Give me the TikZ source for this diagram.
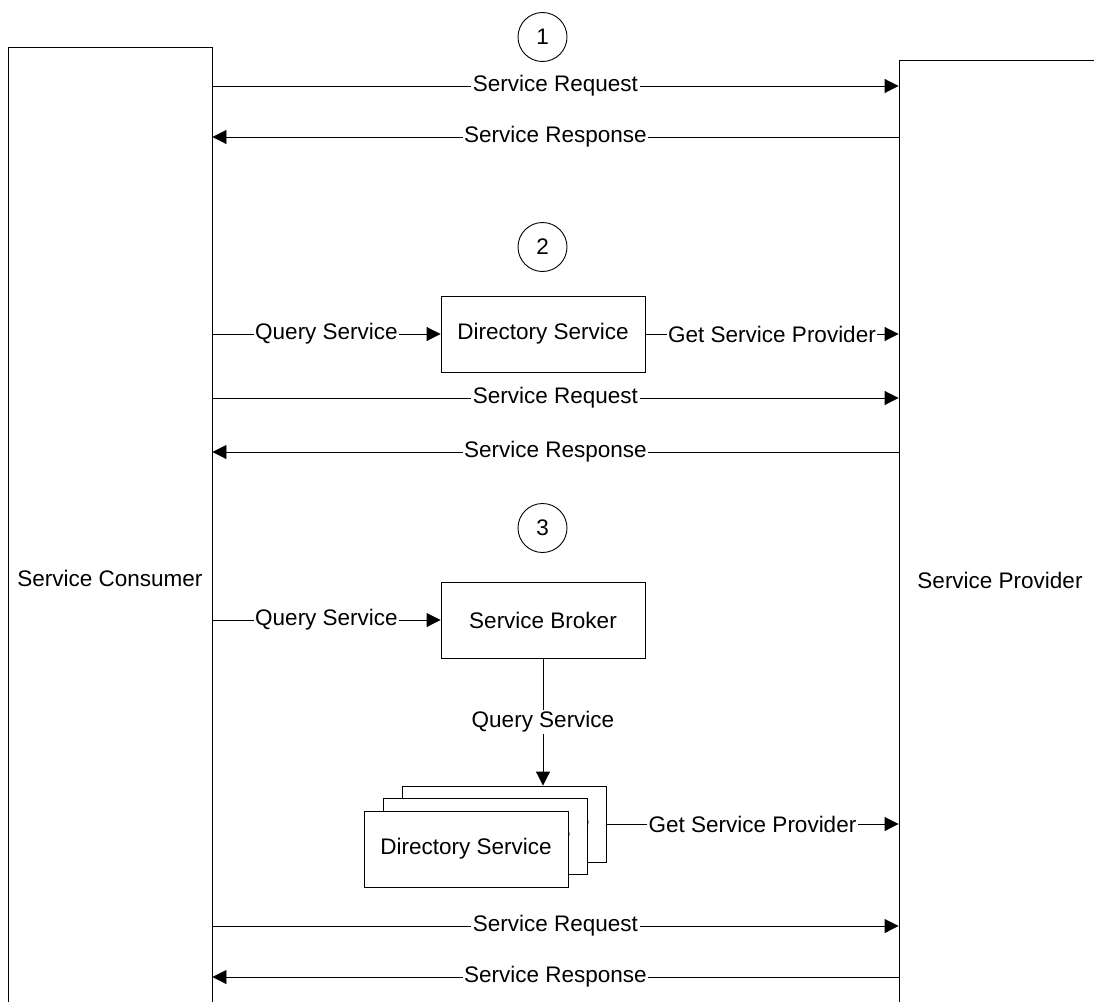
\documentclass[tikz,border=0pt]{standalone}
\usepackage{fontspec}
\setmainfont{Liberation Sans}
\usetikzlibrary{arrows.meta}
\begin{document}
\begin{tikzpicture}[line cap=butt,line join=miter,>={Triangle[length=14pt,width=14pt]},x=1pt,y=-1pt,
  font=\fontsize{22.5}{27}\selectfont,
  actor/.style={draw,line width=0.9pt,inner sep=0pt},
  svcbox/.style={draw,fill=white,line width=0.9pt,minimum width=204pt,minimum height=76pt,inner sep=0pt},
  stepnum/.style={draw,circle,line width=0.9pt,minimum size=49pt,inner sep=0pt},
  msg/.style={->,line width=0.9pt},
  lbl/.style={fill=white,inner sep=1.5pt}]
        \clip (0,0) rectangle (1094,1001);
        \node[actor,minimum width=204pt,minimum height=1063pt] (consumer) at (110,578.5) {Service Consumer};
        \node[actor,minimum width=202pt,minimum height=1040pt] (provider) at (1000,580) {Service Provider};
        \node[stepnum] (step1) at (542.5,37) {1};
        \node[stepnum] (step2) at (542.5,247) {2};
        \node[stepnum] (step3) at (542.5,528) {3};
        \node[svcbox] (dir) at (543,334) {Directory Service};
        \node[svcbox] (broker) at (543,620) {Service Broker};
        \coordinate (req1) at (0,86);
        \coordinate (resp1) at (0,137);
        \coordinate (req2) at (0,398);
        \coordinate (resp2) at (0,452);
        \coordinate (req3) at (0,926);
        \coordinate (resp3) at (0,977);
        \draw [msg] (consumer.east |- req1) -- node[lbl] {Service Request} (provider.west |- req1);
        \draw [msg] (provider.west |- resp1) -- node[lbl] {Service Response} (consumer.east |- resp1);
        \draw [msg] (consumer.east |- dir) -- node[lbl] {Query Service} (dir.west);
        \draw [msg] (dir.east) -- node[lbl] {Get Service Provider} (provider.west |- dir);
        \draw [msg] (consumer.east |- req2) -- node[lbl] {Service Request} (provider.west |- req2);
        \draw [msg] (provider.west |- resp2) -- node[lbl] {Service Response} (consumer.east |- resp2);
        \draw [msg] (consumer.east |- broker) -- node[lbl] {Query Service} (broker.west);
        \node[svcbox] (dirC) at (504,824) {Directory Service};
        \node[svcbox] (dirB) at (485,836) {Directory Service};
        \node[svcbox] (dirA) at (466,849) {Directory Service};
        \draw [msg] (broker.south) -- node[lbl] {Query Service} (broker.south |- dirC.north);
        \draw [msg] (dirC.east) -- node[lbl] {Get Service Provider} (provider.west |- dirC);
        \draw [msg] (consumer.east |- req3) -- node[lbl] {Service Request} (provider.west |- req3);
        \draw [msg] (provider.west |- resp3) -- node[lbl] {Service Response} (consumer.east |- resp3);
\end{tikzpicture}
\end{document}
